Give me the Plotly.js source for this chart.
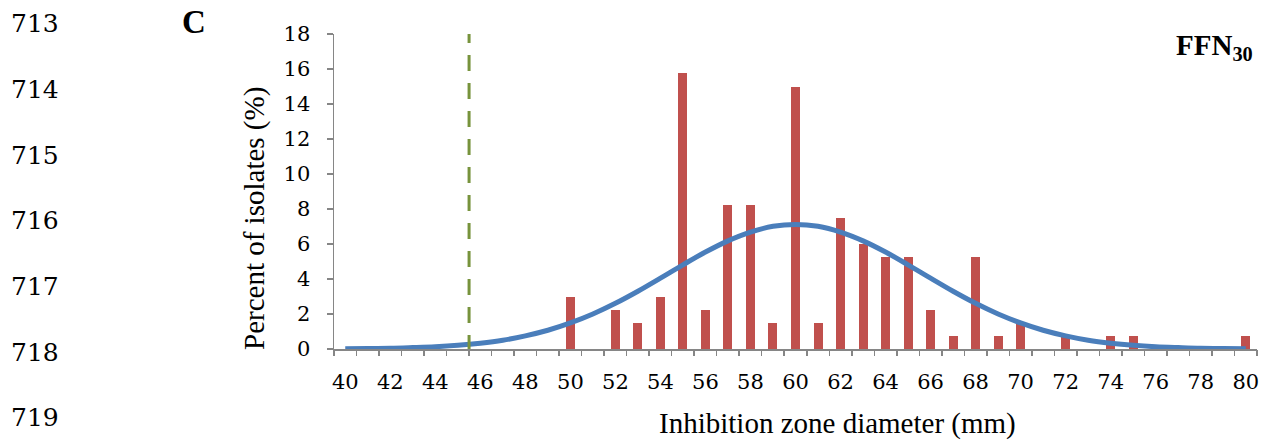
<!DOCTYPE html>
<html>
<head>
<meta charset="utf-8">
<script src="https://cdn.plot.ly/plotly-3.0.1.min.js"></script>
<style>
html,body{margin:0;padding:0;background:#fff;}
#chart{width:1269px;height:444px;}
</style>
</head>
<body>
<div id="chart"></div>
<script>
// ---- data ----
const zoneDiameter = [50, 52, 53, 54, 55, 56, 57, 58, 59, 60, 61, 62, 63, 64, 65, 66, 67, 68, 69, 70, 72, 74, 75, 80];
const percentIsolates = [3.0, 2.25, 1.5, 3.0, 15.75, 2.25, 8.25, 8.25, 1.5, 15.0, 1.5, 7.5, 6.0, 5.25, 5.25, 2.25, 0.75, 5.25, 0.75, 1.5, 0.75, 0.75, 0.75, 0.75];

const curveX = [40,41,42,43,44,45,46,47,48,49,50,51,52,53,54,55,56,57,58,59,60,61,62,63,64,65,66,67,68,69,70,71,72,73,74,75,76,77,78,79,80];
const curveY = [0.01,0.03,0.04,0.08,0.13,0.21,0.33,0.50,0.75,1.07,1.49,2.00,2.61,3.30,4.05,4.81,5.54,6.18,6.68,7.01,7.12,7.01,6.68,6.18,5.54,4.81,4.05,3.30,2.61,2.00,1.49,1.07,0.75,0.50,0.33,0.21,0.13,0.08,0.04,0.03,0.01];

const breakpointX = [45.5, 45.5];
const breakpointY = [18.4, 0];

const xTickVals = [40,42,44,46,48,50,52,54,56,58,60,62,64,66,68,70,72,74,76,78,80];
const xTickText = ["40","42","44","46","48","50","52","54","56","58","60","62","64","66","68","70","72","74","76","78","80"];
const yTickVals = [0,2,4,6,8,10,12,14,16,18];

const lineNumbers = ["713","714","715","716","717","718","719"];
const panelLabel = "C";
const drugLabel = "FFN<sub>30</sub>";
const xTitle = "Inhibition zone diameter (mm)";
const yTitle = "Percent of isolates (%)";

// ---- layout helpers ----
const W = 1269, H = 444;
const M = {l: 334, r: 12, t: 34, b: 95};
const PW = W - M.l - M.r, PH = H - M.t - M.b;
const px = x => (x - M.l) / PW;
const py = y => (H - M.b - y) / PH;

const serif = "Liberation Serif, Times New Roman, serif";
const tickFont = {family: "DejaVu Serif, Cambria, serif", size: 21, color: "#000"};
const axisGrey = "#868686";

const boundaries = [];
for (let i = 0; i <= curveX.length; i++) boundaries.push(curveX[0] - 0.5 + i);

const traces = [
  {type: "bar", x: zoneDiameter, y: percentIsolates, width: 0.4,
   marker: {color: "#C0504D", line: {width: 0}}, hoverinfo: "skip"},
  {type: "scatter", mode: "lines", x: curveX, y: curveY,
   line: {color: "#4A7EBB", width: 5, shape: "spline"}, hoverinfo: "skip"},
  {type: "scatter", mode: "lines", x: breakpointX, y: breakpointY, cliponaxis: false,
   line: {color: "#77933C", width: 3, dash: "16px,12px"}, hoverinfo: "skip"},
  {type: "scatter", mode: "markers", x: [boundaries[0]], y: [0], xaxis: "x2",
   marker: {opacity: 0}, hoverinfo: "skip"}
];

const annotations = [];
lineNumbers.forEach((t, i) => {
  annotations.push({text: t, xref: "paper", yref: "paper", x: px(9), y: py(24 + i * 65.6),
    xanchor: "left", yanchor: "middle", showarrow: false,
    font: {family: "DejaVu Serif, Cambria, serif", size: 25, color: "#000"}});
});
annotations.push({text: "<b>" + panelLabel + "</b>", xref: "paper", yref: "paper",
  x: px(194), y: py(22), xanchor: "center", yanchor: "middle", showarrow: false,
  font: {family: serif, size: 33, color: "#000"}});
annotations.push({text: "<b>" + drugLabel + "</b>", xref: "paper", yref: "paper",
  x: px(1255), y: py(47), xanchor: "right", yanchor: "middle", showarrow: false,
  font: {family: serif, size: 29, color: "#000"}});
annotations.push({text: xTitle, xref: "paper", yref: "paper",
  x: px(837), y: py(423), xanchor: "center", yanchor: "middle", showarrow: false,
  font: {family: serif, size: 29, color: "#000"}});
annotations.push({text: yTitle, xref: "paper", yref: "paper", textangle: -90,
  x: px(254), y: py(219), xanchor: "center", yanchor: "middle", showarrow: false,
  font: {family: serif, size: 29, color: "#000"}});

const layout = {
  width: W, height: H,
  margin: M,
  paper_bgcolor: "#fff", plot_bgcolor: "#fff",
  showlegend: false,
  bargap: 0,
  xaxis: {range: [39.5, 80.5], tickmode: "array", tickvals: xTickVals, ticktext: xTickText,
    ticks: "", showgrid: false, zeroline: false, showline: true, linecolor: axisGrey, linewidth: 1.5,
    tickfont: tickFont, ticklabelstandoff: 13, fixedrange: true},
  xaxis2: {overlaying: "x", anchor: "y", side: "bottom", range: [39.5, 80.5], tickmode: "array",
    tickvals: boundaries, ticks: "outside", ticklen: 6, tickwidth: 1.5, tickcolor: axisGrey,
    showticklabels: false, showgrid: false, zeroline: false, showline: false},
  yaxis: {range: [0, 18], tickmode: "array", tickvals: yTickVals, ticks: "outside", ticklen: 6,
    tickwidth: 1.5, tickcolor: axisGrey, showgrid: false, zeroline: false, showline: true,
    linecolor: axisGrey, linewidth: 1.5, tickfont: tickFont, ticklabelstandoff: 12},
  annotations: annotations
};

Plotly.newPlot("chart", traces, layout, {staticPlot: true, displayModeBar: false});
</script>
</body>
</html>
